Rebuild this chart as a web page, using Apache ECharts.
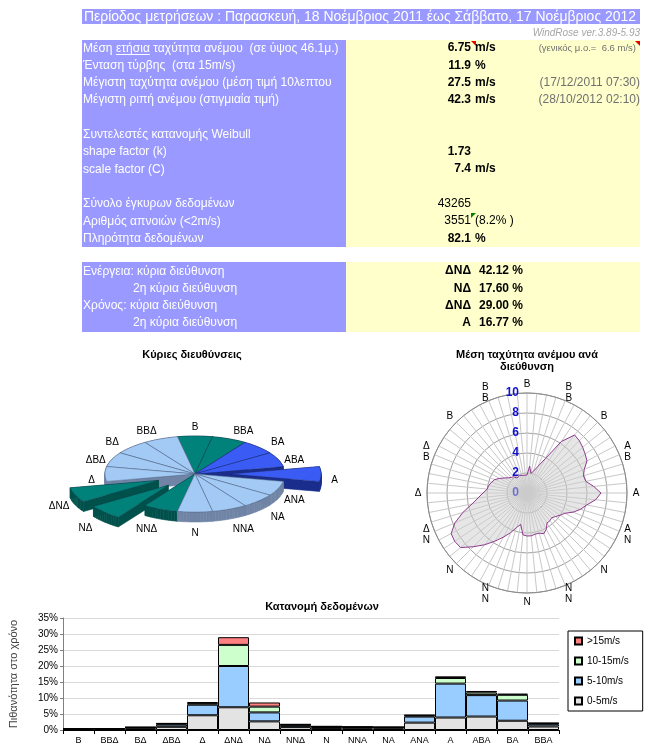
<!DOCTYPE html>
<html><head><meta charset="utf-8">
<script src="https://cdn.jsdelivr.net/npm/echarts@6/dist/echarts.min.js"></script>
<style>html,body{margin:0;padding:0;background:#fff}#c{width:648px;height:755px}</style>
</head><body><div id="c"></div><script>
// ---------------- DATA ----------------
const periodTitle = 'Περίοδος μετρήσεων : Παρασκευή, 18 Νοέμβριος 2011 έως Σάββατο, 17 Νοέμβριος 2012';
const versionText = 'WindRose ver.3.89-5.93';
const summaryLabels = ['Μέση ετήσια ταχύτητα ανέμου  (σε ύψος 46.1μ.)','Ένταση τύρβης  (στα 15m/s)','Μέγιστη ταχύτητα ανέμου (μέση τιμή 10λεπτου','Μέγιστη ριπή ανέμου (στιγμιαία τιμή)','','Συντελεστές κατανομής Weibull','shape factor (k)','scale factor (C)','','Σύνολο έγκυρων δεδομένων','Αριθμός απνοιών (<2m/s)','Πληρότητα δεδομένων'];
const summaryValues = ['6.75','11.9','27.5','42.3','','','1.73','7.4','','43265','3551','82.1'];
const summaryUnits = ['m/s','%','m/s','m/s','','','','m/s','','','(8.2% )','%'];
const summaryNotes = ['(γενικός μ.ο.=  6.6 m/s)','','(17/12/2011 07:30)','(28/10/2012 02:10)','','','','','','','',''];
const summaryBold = [true,true,true,true,false,false,true,true,false,false,false,true];
const dominantLabels = ['Ενέργεια: κύρια διεύθυνση','2η κύρια διεύθυνση','Χρόνος: κύρια διεύθυνση','2η κύρια διεύθυνση'];
const dominantDirs = ['ΔΝΔ','ΝΔ','ΔΝΔ','Α'];
const dominantPct = ['42.12 %','17.60 %','29.00 %','16.77 %'];

const dirNames = ['Β','ΒΒΑ','ΒΑ','ΑΒΑ','Α','ΑΝΑ','ΝΑ','ΝΝΑ','Ν','ΝΝΔ','ΝΔ','ΔΝΔ','Δ','ΔΒΔ','ΒΔ','ΒΒΔ'];
const pieShares = [1,1,1,1,1,1,1,1,1,1,1,1,1,1,1,1];
const pieExplode = [0,0,0,0,0.4,0,0,0,0,0,0.42,0.44,0,0,0,0];
const pieColorClass = ['teal','teal','blue','blue','blue','light','light','light','light','teal','teal','teal','light','light','light','light'];

const radarDirLabels = ['Β','Β\nΒ','Β','Α\nΒ','Α','Α\nΝ','Ν','Ν\nΝ','Ν','Ν\nΝ','Ν','Δ\nΝ','Δ','Δ\nΒ','Β','Β\nΒ'];
const radarSpeeds = [1.8,2.7,2.0,2.3,2.9,3.9,6.2,7.5,7.4,7.2,7.0,6.8,6.2,5.9,6.0,6.7,
  7.4,6.9,6.1,5.6,5.0,4.3,4.0,3.7,3.5,3.6,3.6,4.1,4.4,4.2,4.2,4.3,
  4.3,4.2,3.2,3.6,4.3,5.0,5.8,6.7,7.6,8.6,8.7,8.6,7.8,6.7,5.6,4.9,
  4.4,4.0,3.9,3.7,3.5,3.1,2.7,2.4,2.2,2.1,1.8,1.7,1.9,2.0,1.8,1.6];
const radarTicks = [0,2,4,6,8,10];

const barCategories = ['Β','ΒΒΔ','ΒΔ','ΔΒΔ','Δ','ΔΝΔ','ΝΔ','ΝΝΔ','Ν','ΝΝΑ','ΝΑ','ΑΝΑ','Α','ΑΒΑ','ΒΑ','ΒΒΑ'];
const speed0to5   = [0.30,0.30,0.50,1.00,4.60,7.10,2.70,0.90,0.60,0.55,0.50,2.30,3.90,4.20,2.90,1.10];
const speed5to10  = [0.10,0.10,0.25,0.70,3.30,12.90,2.80,0.60,0.40,0.30,0.30,1.90,10.60,6.70,6.30,0.70];
const speed10to15 = [0.05,0.05,0.10,0.30,0.50,6.60,1.80,0.20,0.10,0.10,0.08,0.35,1.75,0.80,1.80,0.30];
const speedOver15 = [0.02,0.02,0.05,0.10,0.30,2.40,1.30,0.10,0.05,0.05,0.02,0.15,0.52,0.50,0.35,0.10];
const barSeriesNames = ['0-5m/s','5-10m/s','10-15m/s','>15m/s'];
const yTicks = [0,5,10,15,20,25,30,35];

// ---------------- LAYOUT / STYLE ----------------
const FONT = '"Liberation Sans", Arial, sans-serif';
const PURPLE = '#9999FF', YELLOW = '#FFFFCC';
const mctx = document.createElement('canvas').getContext('2d');
function textW(t, font){ mctx.font = font; return mctx.measureText(t).width; }

const graphics = [];
// title bar
graphics.push({type:'rect', shape:{x:82,y:9,width:558,height:15}, style:{fill:PURPLE}});
const titleFont = '15px ' + FONT;
const titleScale = 552 / textW(periodTitle, titleFont);
graphics.push({type:'text', x:84, y:17, scaleX:titleScale, style:{text:periodTitle, fill:'#fff', font:titleFont, verticalAlign:'middle'}});
graphics.push({type:'text', x:640, y:33, style:{text:versionText, fill:'#A6A6A6', font:'italic 10px '+FONT, align:'right', verticalAlign:'middle'}});

// block 1
const rowH = 17.3, row0 = 48;
graphics.push({type:'rect', shape:{x:82,y:40,width:264,height:207}, style:{fill:PURPLE}});
const labFont = '12.8px ' + FONT;
const labScale = 196 / textW('Μέγιστη ριπή ανέμου (στιγμιαία τιμή)', labFont);
summaryLabels.forEach((t,k)=>{
  if(!t) return;
  graphics.push({type:'text', x:83, y:row0+rowH*k, scaleX:labScale, style:{text:t, fill:'#fff', font:labFont, verticalAlign:'middle'}});
});
(function(){
  const pre = textW('Μέση ', labFont)*labScale, w = textW('ετήσια', labFont)*labScale;
  graphics.push({type:'line', shape:{x1:83+pre, y1:row0+6.5, x2:83+pre+w, y2:row0+6.5}, style:{stroke:'#fff', lineWidth:1}});
})();
graphics.push({type:'rect', shape:{x:346,y:40,width:294,height:207}, style:{fill:YELLOW}});
summaryValues.forEach((v,k)=>{
  const y = row0+rowH*k;
  const f = (summaryBold[k]?'bold ':'') + '12px ' + FONT;
  if(v) graphics.push({type:'text', x:471, y:y, style:{text:v, fill:'#000', font:f, align:'right', verticalAlign:'middle'}});
  if(summaryUnits[k]) graphics.push({type:'text', x:475, y:y, style:{text:summaryUnits[k], fill:'#000', font:f, verticalAlign:'middle'}});
  if(summaryNotes[k]) {
    const small = k===0;
    graphics.push({type:'text', x: small?636:640, y:y, style:{text:summaryNotes[k], fill:'#707070', font:(small?'9.5px ':'12px ')+FONT, align:'right', verticalAlign:'middle'}});
  }
});
graphics.push({type:'polygon', shape:{points:[[471,41],[476,41],[476,46]]}, style:{fill:'#E00000'}});
graphics.push({type:'polygon', shape:{points:[[635,41],[640,41],[640,46]]}, style:{fill:'#E00000'}});
graphics.push({type:'polygon', shape:{points:[[471,213],[476,213],[471,218]]}, style:{fill:'#008000'}});

// block 2
const row2 = 271, rowH2 = 17.3;
graphics.push({type:'rect', shape:{x:82,y:262,width:264,height:70}, style:{fill:PURPLE}});
dominantLabels.forEach((t,k)=>{
  const x = t.indexOf('2η')===0 ? 133 : 83;
  graphics.push({type:'text', x:x, y:row2+rowH2*k, scaleX:labScale, style:{text:t, fill:'#fff', font:labFont, verticalAlign:'middle'}});
});
graphics.push({type:'rect', shape:{x:346,y:262,width:294,height:70}, style:{fill:YELLOW}});
dominantDirs.forEach((d,k)=>{
  const y = row2+rowH2*k;
  graphics.push({type:'text', x:471, y:y, style:{text:d, fill:'#000', font:'bold 12px '+FONT, align:'right', verticalAlign:'middle'}});
  graphics.push({type:'text', x:479, y:y, style:{text:dominantPct[k], fill:'#000', font:'bold 12px '+FONT, verticalAlign:'middle'}});
});

// ---------------- PIE (custom 3D-look) ----------------
const piePalette = {
  teal: {top:'#00827A', side:'#00504B'},
  blue: {top:'#3A5CF5', side:'#1A2D8C'},
  light:{top:'#A2CAF4', side:'#7085A6'}
};
const pieTotal = pieShares.reduce((a,b)=>a+b,0);
const pieStart = []; { let acc=0; pieShares.forEach(s=>{pieStart.push(acc); acc+=s;}); }
const pieData = dirNames.map((n,i)=>({name:n, value:[i, pieShares[i], pieExplode[i]]}));
const PIE_DEPTH = 10;
function renderPieSlice(params, api){
  const i = api.value(0), share = api.value(1), e = api.value(2);
  const a0 = (pieStart[i] - pieShares[0]/2) / pieTotal * 2*Math.PI;
  const a1 = a0 + share / pieTotal * 2*Math.PI;
  const am = (a0+a1)/2;
  const s = Math.sin(am), co = Math.cos(am);
  const ox = e*s, oy = e*co;
  const c = api.coord([ox, oy]);
  const arc = [];
  const n = 12;
  for(let k=0;k<=n;k++){ const a = a0+(a1-a0)*k/n; arc.push(api.coord([ox+Math.sin(a), oy+Math.cos(a)])); }
  const top = [c].concat(arc);
  const dn = p => [p[0], p[1]+PIE_DEPTH];
  const pal = piePalette[pieColorClass[i]];
  const base = Math.round((1 - co)*50)*4;
  const children = [];
  for(let k=0;k<top.length;k++){
    const p = top[k], q = top[(k+1)%top.length];
    children.push({type:'polygon', z2:base, shape:{points:[p,q,dn(q),dn(p)]}, style:{fill:pal.side, stroke:pal.side, lineWidth:0.6}});
  }
  children.push({type:'polygon', z2:base+2, shape:{points:top}, style:{fill:pal.top, stroke:'rgba(30,40,70,0.55)', lineWidth:0.5}});
  const fx = 1.15 + 0.3*co*co;
  const lp = api.coord([ox + s*fx, oy + co*1.26]);
  lp[1] += PIE_DEPTH*(1-co)/2 + 1;
  children.push({type:'text', z2:1000, x:lp[0], y:lp[1], style:{text:dirNames[i], fill:'#000', font:'10px '+FONT, align:'center', verticalAlign:'middle'}});
  return {type:'group', children};
}

// ---------------- RADAR direction labels (custom on polar) ----------------
const RADAR_LABEL_R = 10.9;
const radarLabelData = radarDirLabels.map((t,k)=>[RADAR_LABEL_R, k*360/radarDirLabels.length, k]);
function renderRadarLabel(params, api){
  const p = api.coord([api.value(0), api.value(1)]);
  const k = api.value(2);
  return {type:'text', x:p[0], y:p[1], style:{text:radarDirLabels[k], fill:'#000', font:'10px '+FONT, lineHeight:11, align:'center', verticalAlign:'middle'}};
}

// ---------------- CHART ----------------
const chart = echarts.init(document.getElementById('c'), null, {renderer:'canvas'});
const polarData = radarSpeeds.map((r,i)=>[r, i*360/radarSpeeds.length]).concat([[radarSpeeds[0],360]]);
const option = {
  animation:false,
  backgroundColor:'#fff',
  textStyle:{fontFamily:FONT},
  title:[
    {text:'Κύριες διευθύνσεις', left:192, top:349, textAlign:'center', padding:0, textStyle:{fontSize:11, fontWeight:'bold', color:'#000', fontFamily:FONT}},
    {text:'Μέση ταχύτητα ανέμου ανά\nδιεύθυνση', left:527, top:349, textAlign:'center', padding:0, textStyle:{fontSize:11, fontWeight:'bold', color:'#000', lineHeight:12, fontFamily:FONT}},
    {text:'Κατανομή δεδομένων', left:322, top:601, textAlign:'center', padding:0, textStyle:{fontSize:11, fontWeight:'bold', color:'#000', fontFamily:FONT}}
  ],
  graphic: graphics,
  legend:{
    data:['>15m/s','10-15m/s','5-10m/s','0-5m/s'], orient:'vertical', left:568, top:631,
    itemWidth:7, itemHeight:7, itemGap:10, icon:'rect', borderColor:'#000', borderWidth:1,
    padding:[5,14,5,6], textStyle:{fontSize:10, color:'#000', fontFamily:FONT}
  },
  grid:[
    {left:51, top:413.2, width:288, height:121.6, show:false},
    {left:62, top:618, width:497, height:112, show:false}
  ],
  xAxis:[
    {gridIndex:0, type:'value', min:-1.6, max:1.6, show:false},
    {gridIndex:1, type:'category', data:barCategories, axisLine:{lineStyle:{color:'#000'}},
     axisTick:{show:true, alignWithLabel:false, length:4, lineStyle:{color:'#000'}},
     axisLabel:{fontSize:9, color:'#000', margin:6, interval:0, fontFamily:FONT}}
  ],
  yAxis:[
    {gridIndex:0, type:'value', min:-1.6, max:1.6, show:false},
    {gridIndex:1, type:'value', min:yTicks[0], max:yTicks[yTicks.length-1], interval:yTicks[1]-yTicks[0],
     axisLine:{show:true, lineStyle:{color:'#808080'}}, axisTick:{show:true, length:3, lineStyle:{color:'#808080'}},
     splitLine:{lineStyle:{color:'#D9D9D9'}},
     axisLabel:{formatter:'{value}%', fontSize:10, color:'#000', margin:5, fontFamily:FONT},
     name:'Πιθανότητα στο χρόνο', nameLocation:'middle', nameGap:44, nameRotate:90,
     nameTextStyle:{fontSize:11, color:'#404040', fontFamily:FONT}}
  ],
  polar:{center:[527,493], radius:100},
  angleAxis:{
    type:'value', min:0, max:360, interval:360/radarSpeeds.length, startAngle:90, clockwise:true,
    axisLine:{lineStyle:{color:'#8C8C8C'}}, axisTick:{show:false},
    splitLine:{show:true, lineStyle:{color:'#C8C8C8', width:1}},
    axisLabel:{show:false}
  },
  radiusAxis:{
    min:radarTicks[0], max:radarTicks[radarTicks.length-1], interval:radarTicks[1]-radarTicks[0],
    axisLine:{show:false}, axisTick:{show:false},
    splitLine:{show:true, lineStyle:{color:'#A0A0A0'}},
    axisLabel:{color:'#1010D0', fontWeight:'bold', fontSize:12, fontFamily:FONT}
  },
  series:[
    {type:'custom', xAxisIndex:0, yAxisIndex:0, renderItem:renderPieSlice, data:pieData, silent:true, clip:false},
    {type:'line', coordinateSystem:'polar', data:polarData, symbol:'none', silent:true,
     lineStyle:{color:'#8E3A8E', width:1}, areaStyle:{color:'rgba(205,205,205,0.72)'}},
    {type:'custom', coordinateSystem:'polar', renderItem:renderRadarLabel, data:radarLabelData, silent:true, clip:false},
    {name:barSeriesNames[0], type:'bar', xAxisIndex:1, yAxisIndex:1, stack:'s', data:speed0to5, barCategoryGap:'0%', itemStyle:{color:'#E3E3E3', borderColor:'#000', borderWidth:1}},
    {name:barSeriesNames[1], type:'bar', xAxisIndex:1, yAxisIndex:1, stack:'s', data:speed5to10, barCategoryGap:'0%', itemStyle:{color:'#99CCFF', borderColor:'#000', borderWidth:1}},
    {name:barSeriesNames[2], type:'bar', xAxisIndex:1, yAxisIndex:1, stack:'s', data:speed10to15, barCategoryGap:'0%', itemStyle:{color:'#CCFFCC', borderColor:'#000', borderWidth:1}},
    {name:barSeriesNames[3], type:'bar', xAxisIndex:1, yAxisIndex:1, stack:'s', data:speedOver15, barCategoryGap:'0%', itemStyle:{color:'#FF8080', borderColor:'#000', borderWidth:1}}
  ]
};
chart.setOption(option);
</script></body></html>
